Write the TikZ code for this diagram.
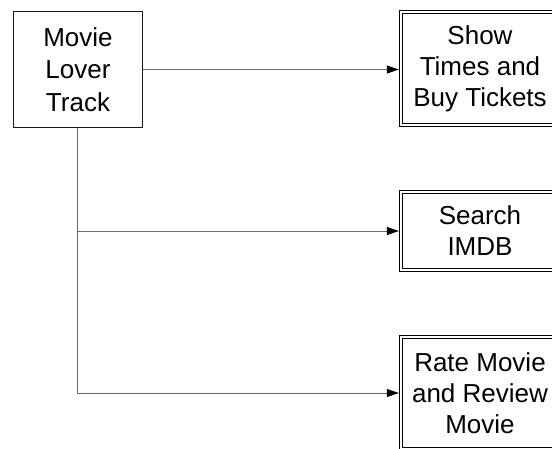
\documentclass[tikz,border=0pt]{standalone}
\usepackage{fontspec}
\setmainfont{Liberation Sans}
\usetikzlibrary{arrows.meta}

\tikzset{
  trackbox/.style={draw=black!90, line width=1.4pt, fill=white,
    minimum width=128.6pt, minimum height=115.6pt, inner sep=0pt,
    align=center, font=\fontsize{26}{32.5}\selectfont},
  taskbox/.style={draw=black, line width=1.2pt, double=white, double distance=2pt,
    minimum width=158pt, inner sep=0pt, align=center,
    font=\fontsize{26}{31}\selectfont},
  link/.style={draw=black!58, line width=0.8pt,
    -{Triangle[length=12pt, width=8pt, color=black]}, shorten >=1.6pt}
}

\begin{document}
\begin{tikzpicture}[x=1pt, y=-1pt]
  \useasboundingbox (0,0) rectangle (552,448);
  \clip (0,0) rectangle (552,448);
  \fill[white] (0,0) rectangle (552,448);

  % connectors first, boxes on top
  \coordinate (srcE) at (142.3,69.5);
  \coordinate (srcS) at (77,127.3);

  \node[taskbox, minimum height=113pt] (show) at (480,68.5)
    {Show\\Times and\\Buy Tickets};
  \node[taskbox, minimum height=78pt] (search) at (480,231)
    {Search\\IMDB};
  \node[taskbox, minimum height=112pt] (rate) at (480,393)
    {Rate Movie\\and Review\\Movie};

  \draw[link] (srcE) -- (srcE -| show.west);
  \draw[link] (srcS) |- (search.west);
  \draw[link] (srcS) |- (rate.west);

  \node[trackbox] (lover) at (78,69.5) {Movie\\Lover\\Track};
\end{tikzpicture}
\end{document}
